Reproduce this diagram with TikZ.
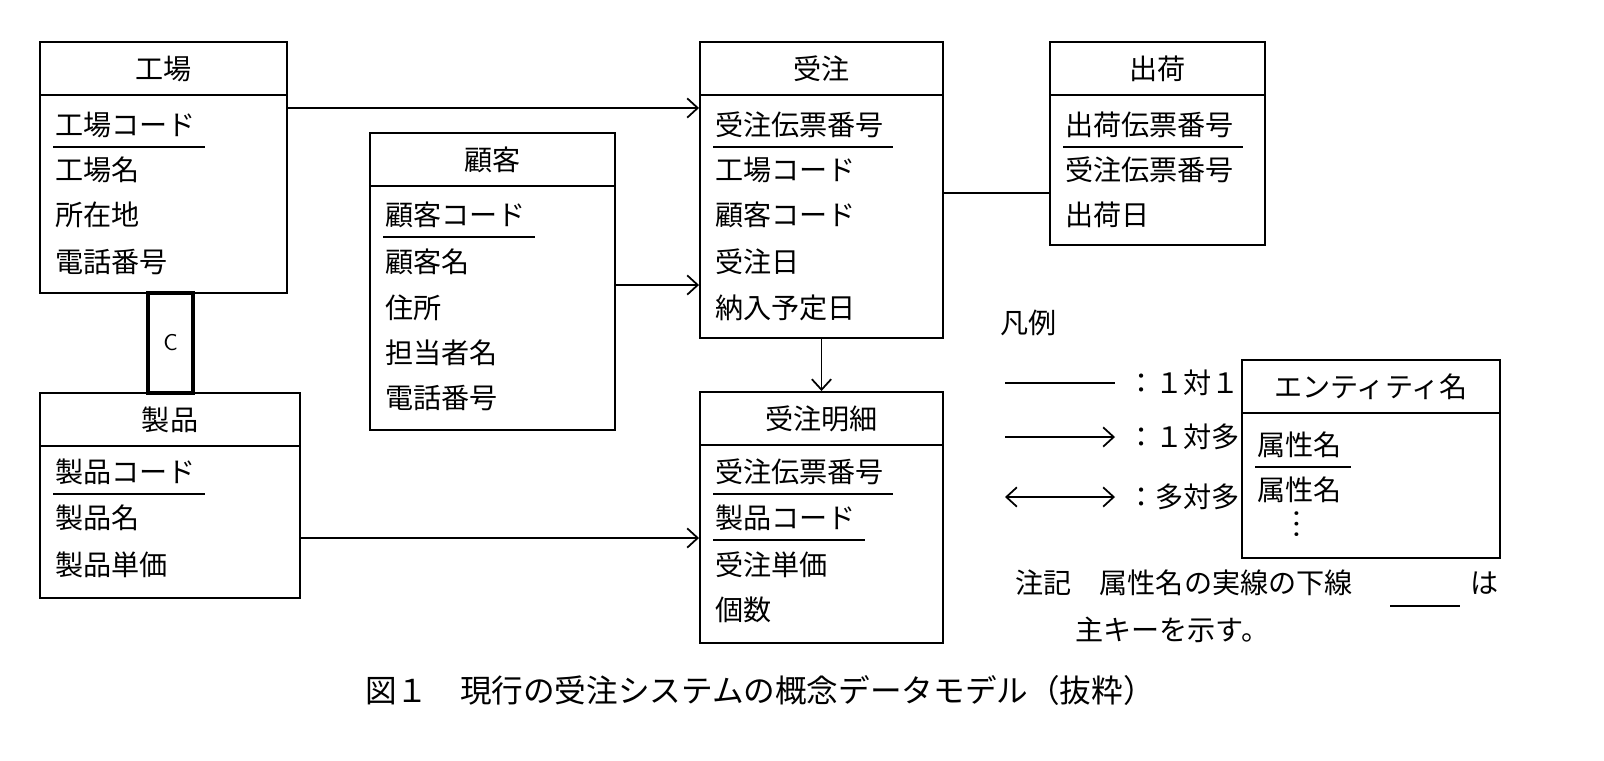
\documentclass[tikz,border=0pt]{standalone}
\usepackage{fontspec}
\setmainfont{Noto Sans CJK JP}
\usetikzlibrary{arrows.meta}
\tikzset{
  barb/.tip={Straight Barb[length=6pt,width=11pt]},
  ebox/.style={draw, line width=1.1pt, inner sep=0pt},
  attr/.style={anchor=west, inner sep=0pt, font=\fontsize{16}{16}\selectfont},
  ttl/.style={inner sep=0pt, font=\fontsize{16}{16}\selectfont},
  rel/.style={line width=1pt, -barb},
}
% entity box: name, x1, y1, x2, y2, title
\newcommand{\entity}[6]{
  \node[ebox, minimum width={(#4-#2)*0.02cm}, minimum height={(#5-#3)*0.02cm}]
    (#1) at ({(#2+#4)/2},{(#3+#5)/2}) {};
  \node[ttl] (#1-t) at ({(#2+#4)/2},{#3+27}) {#6};
  \draw[line width=1pt] (#2,{#3+53}) -- (#4,{#3+53});
}
\newcommand{\ul}[1]{\draw[line width=1pt] ([yshift=-5pt,xshift=-1pt]#1.south west) -- ([yshift=-5pt,xshift=5pt]#1.south east);}
\begin{document}
\begin{tikzpicture}[x=0.02cm,y=-0.02cm]
	\useasboundingbox (0,0) rectangle (1604,760);
	% entities
	\entity{kojo}{40}{42}{287}{293}{工場}
	\entity{seihin}{40}{393}{300}{598}{製品}
	\entity{kokyaku}{370}{133}{615}{430}{顧客}
	\entity{juchu}{700}{42}{943}{338}{受注}
	\entity{shukka}{1050}{42}{1265}{245}{出荷}
	\entity{meisai}{700}{392}{943}{643}{受注明細}
	\entity{hanrei}{1242}{360}{1500}{558}{エンティティ名}
	% C box
	\node[ebox, line width=2pt, minimum width=0.9cm, minimum height=2cm, font=\fontsize{13}{13}\sffamily] (cbox) at (170.5,343) {C};
	% attributes
	\node[attr] (kojo-a1) at (55,125) {工場コード}; \ul{kojo-a1}
	\node[attr] (kojo-a2) at (55,170) {工場名};
	\node[attr] (kojo-a3) at (55,215) {所在地};
	\node[attr] (kojo-a4) at (55,262) {電話番号};
	\node[attr] (seihin-a1) at (55,472) {製品コード}; \ul{seihin-a1}
	\node[attr] (seihin-a2) at (55,518) {製品名};
	\node[attr] (seihin-a3) at (55,565) {製品単価};
	\node[attr] (kokyaku-a1) at (385,215) {顧客コード}; \ul{kokyaku-a1}
	\node[attr] (kokyaku-a2) at (385,262) {顧客名};
	\node[attr] (kokyaku-a3) at (385,308) {住所};
	\node[attr] (kokyaku-a4) at (385,353) {担当者名};
	\node[attr] (kokyaku-a5) at (385,398) {電話番号};
	\node[attr] (juchu-a1) at (715,125) {受注伝票番号}; \ul{juchu-a1}
	\node[attr] (juchu-a2) at (715,170) {工場コード};
	\node[attr] (juchu-a3) at (715,215) {顧客コード};
	\node[attr] (juchu-a4) at (715,262) {受注日};
	\node[attr] (juchu-a5) at (715,308) {納入予定日};
	\node[attr] (shukka-a1) at (1065,125) {出荷伝票番号}; \ul{shukka-a1}
	\node[attr] (shukka-a2) at (1065,170) {受注伝票番号};
	\node[attr] (shukka-a3) at (1065,215) {出荷日};
	\node[attr] (meisai-a1) at (715,472) {受注伝票番号}; \ul{meisai-a1}
	\node[attr] (meisai-a2) at (715,518) {製品コード}; \ul{meisai-a2}
	\node[attr] (meisai-a3) at (715,565) {受注単価};
	\node[attr] (meisai-a4) at (715,610) {個数};
	\node[attr] (hanrei-a1) at (1257,445) {属性名}; \ul{hanrei-a1}
	\node[attr] (hanrei-a2) at (1257,490) {属性名};
	\node[attr] (hanrei-a3) at (1295,525) {\rotatebox{90}{…}};
	% relations
	\coordinate (r1) at (0,108);
	\coordinate (r2) at (0,285);
	\coordinate (r3) at (0,193);
	\coordinate (r4) at (0,538);
	\draw[rel] (kojo.east |- r1) -- (juchu.west |- r1);
	\draw[rel] (kokyaku.east |- r2) -- (juchu.west |- r2);
	\draw[line width=1pt] (juchu.east |- r3) -- (shukka.west |- r3);
	\draw[rel] (juchu.south) -- (meisai.north);
	\draw[rel] (seihin.east |- r4) -- (meisai.west |- r4);
	% legend
	\node[attr] (hanrei-h) at (1000,323) {凡例};
	\coordinate (l1a) at (1005,383); \coordinate (l1b) at (1115,383);
	\coordinate (l2a) at (1005,437); \coordinate (l2b) at (1115,437);
	\coordinate (l3a) at (1005,497); \coordinate (l3b) at (1115,497);
	\draw[line width=1pt] (l1a) -- (l1b);
	\draw[rel] (l2a) -- (l2b);
	\draw[line width=1pt, barb-barb] (l3a) -- (l3b);
	\node[attr] (l1t) at (1127,383) {：１対１};
	\node[attr] (l2t) at (1127,437) {：１対多};
	\node[attr] (l3t) at (1127,497) {：多対多};
	\node[attr] (note1) at (1015,583) {注記　属性名の実線の下線};
	\node[attr] (note2) at (1470,583) {は};
	\node[attr] (note3) at (1075,630) {主キーを示す。};
	\coordinate (u1) at (1390,606); \coordinate (u2) at (1460,606);
	\draw[line width=1pt] (u1) -- (u2);
	% caption
	\node[ttl, font=\fontsize{18}{18}\selectfont] (cap) at (760,690) {図１　現行の受注システムの概念データモデル（抜粋）};
\end{tikzpicture}
\end{document}
